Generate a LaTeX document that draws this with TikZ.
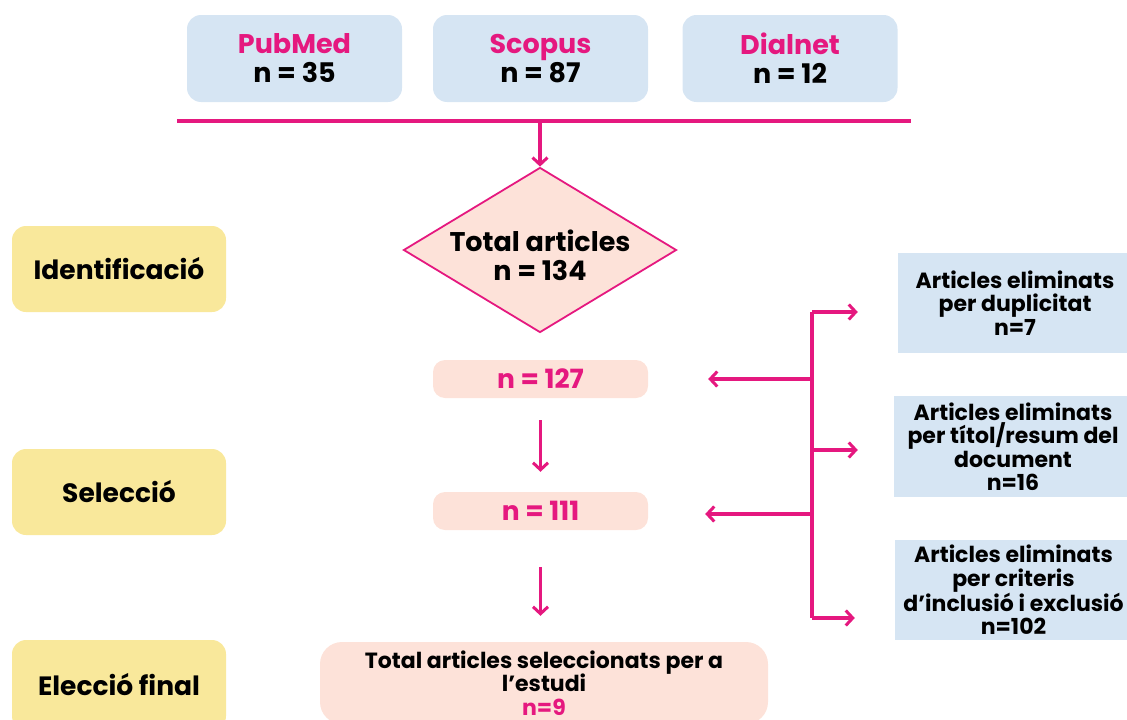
\documentclass[tikz,border=0pt]{standalone}
\usepackage{fontspec}
\setmainfont{Poppins}
\usetikzlibrary{shapes.geometric,arrows.meta}
\definecolor{pinkc}{HTML}{E5187F}
\definecolor{bluec}{HTML}{D6E5F3}
\definecolor{peachc}{HTML}{FDE2D9}
\definecolor{yellowc}{HTML}{F9E89B}
\tikzset{
  src/.style={fill=bluec, rounded corners=14pt, minimum width=215pt, minimum height=87pt, align=center, inner sep=0pt},
  stage/.style={fill=yellowc, rounded corners=14pt, minimum width=214pt, minimum height=86pt, align=center, font=\bfseries\fontsize{26.5}{30}\selectfont},
  cnt/.style={fill=peachc, rounded corners=12pt, minimum width=215pt, minimum height=38pt, text=pinkc, align=center, font=\bfseries\fontsize{26.5}{30}\selectfont},
  side/.style={fill=bluec, minimum width=234pt, align=center, inner sep=0pt, font=\bfseries\fontsize{22}{23.5}\selectfont},
  pline/.style={draw=pinkc, line width=3.2pt},
  arr/.style={draw=pinkc, line width=3.2pt, -{Straight Barb[length=7pt, width=15pt, line width=3pt]}},
}
\begin{document}
\begin{tikzpicture}[x=1pt, y=-1pt, font=\bfseries\fontsize{27}{29}\selectfont]
\useasboundingbox (0,0) rectangle (1127,720);
% sources
\node[src] (pub) at (294.5,58.5) {\textcolor{pinkc}{PubMed}\\n = 35};
\node[src] (sco) at (540.5,58.5) {\textcolor{pinkc}{Scopus}\\n = 87};
\node[src] (dia) at (790,58.5) {\textcolor{pinkc}{Dialnet}\\n = 12};
% bus
\coordinate (busL) at (177,121);
\coordinate (busR) at (911,121);
\coordinate (bus) at (540,121);
\draw[draw=pinkc, line width=4pt] (busL) -- (busR);
% diamond
\node[diamond, draw=pinkc, line width=1.8pt, fill=peachc, minimum width=273pt, minimum height=165pt, inner sep=0pt,
  label={[align=center, yshift=-5pt]center:Total articles\\n = 134}] (total) at (540,250) {};
\draw[arr] (bus) -- (total.north);
% counts
\node[cnt] (n127) at (540.5,379) {n = 127};
\node[cnt] (n111) at (540.5,511) {n = 111};
\node[cnt, text=black, minimum width=448pt, minimum height=82pt, rounded corners=22pt, font=\bfseries\fontsize{22}{23.5}\selectfont] (final) at (544,683)
  {Total articles seleccionats per a\\l’estudi\\\textcolor{pinkc}{n=9}};
\draw[arr] ([yshift=-22pt]n127.south) -- ([yshift=20pt]n111.north);
\draw[arr] ([yshift=-37pt]n111.south) -- ([yshift=26pt]n111.south |- final.north);
% stages
\node[stage] (ide) at (119,269) {Identificació};
\node[stage] (sel) at (119,492) {Selecció};
\node[stage, minimum height=90pt] (ele) at (119,685) {Elecció final};
% side boxes
\node[side, minimum height=100pt] (r1) at (1015,303) {Articles eliminats\\per duplicitat\\n=7};
\node[side, minimum height=101pt, minimum width=238pt] (r2) at (1013,446.5) {Articles eliminats\\per títol/resum del\\document\\n=16};
\node[side, minimum height=100pt, minimum width=237pt] (r3) at (1013.5,590) {Articles eliminats\\per criteris\\d’inclusió i exclusió\\n=102};
% bracket
\coordinate (brT) at (812,312);
\coordinate (brB) at (812,618);
\draw[pline] (brT) -- (brB);
\draw[arr] (brT) -- ([xshift=-40pt]r1.west |- brT);
\draw[arr] (brT |- 0,450) -- ([xshift=-36pt]r2.west |- 0,450);
\draw[arr] (brB) -- ([xshift=-40pt]r3.west |- brB);
\draw[arr] (brT |- n127) -- ([xshift=60pt]n127.east);
\draw[arr] (brT |- 0,514) -- ([xshift=57pt]n111.east |- 0,514);
\end{tikzpicture}
\end{document}
